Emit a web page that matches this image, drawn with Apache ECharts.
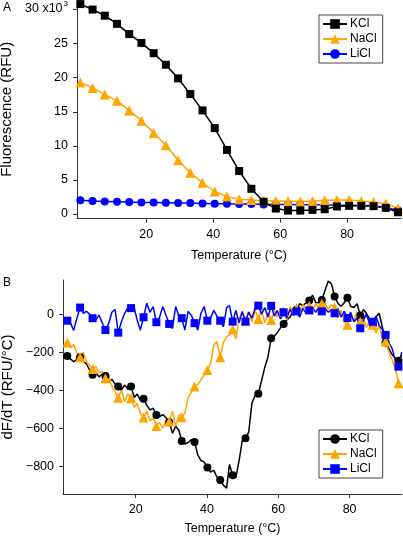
<!DOCTYPE html>
<html>
<head>
<meta charset="utf-8">
<script src="https://cdn.jsdelivr.net/npm/echarts@6/dist/echarts.min.js"></script>
<style>html,body{margin:0;padding:0;background:#fff;}#c{width:403px;height:536px;}</style>
</head>
<body>
<div id="c"></div>
<script>
// ---------- Panel A: fluorescence vs temperature ----------
const topTemps = [0.3, 3.95, 7.6, 11.25, 14.9, 18.55, 22.2, 25.85, 29.5, 33.15, 36.8, 40.45, 44.1, 47.75, 51.4, 55.05, 58.7, 62.35, 66.0, 69.65, 73.3, 76.95, 80.6, 84.25, 87.9, 91.55, 95.2];
const topKCl  = [30.8, 30.0, 29.1, 27.9, 26.4, 25.1, 23.6, 21.9, 19.9, 17.6, 15.2, 12.6, 9.4, 6.3, 3.7, 1.8, 0.8, 0.5, 0.5, 0.6, 0.7, 1.1, 1.2, 1.2, 1.15, 0.9, 0.25];
const topNaCl = [19.3, 18.5, 17.55, 16.6, 15.2, 13.7, 11.9, 10.1, 7.9, 6.05, 4.6, 3.3, 2.55, 2.15, 2.05, 1.95, 1.9, 1.9, 1.85, 1.9, 2.0, 2.05, 2.05, 1.9, 1.75, 1.55, 0.8];
const topLiCl = [2.0, 1.9, 1.85, 1.8, 1.75, 1.7, 1.7, 1.65, 1.6, 1.6, 1.55, 1.5, 1.5, 1.45, 1.45, 1.4, 1.4, 1.4, 1.35, 1.35, 1.35, 1.3, 1.3, 1.25, 1.2, 1.0, 0.5];
const topXTicks = [20, 40, 60, 80];
const topYTicks = [0, 5, 10, 15, 20, 25, 30];

// ---------- Panel B: dF/dT vs temperature ----------
const botTemps = [0.8, 1.7, 2.6, 3.5, 4.4, 5.3, 6.2, 7.1, 7.9, 8.8, 9.7, 10.6, 11.5, 12.4, 13.3, 14.2, 15.1, 16.0, 16.9, 17.8, 18.7, 19.6, 20.4, 21.3, 22.2, 23.1, 24.0, 24.9, 25.8, 26.7, 27.6, 28.5, 29.4, 30.3, 31.2, 32.1, 32.9, 33.8, 34.7, 35.6, 36.5, 37.4, 38.3, 39.2, 40.1, 41.0, 41.9, 42.8, 43.7, 44.6, 45.5, 46.3, 47.2, 48.1, 49.0, 49.9, 50.8, 51.7, 52.6, 53.5, 54.4, 55.3, 56.2, 57.1, 58.0, 58.9, 59.7, 60.6, 61.5, 62.4, 63.3, 64.2, 65.1, 66.0, 66.9, 67.8, 68.7, 69.6, 70.5, 71.4, 72.2, 73.1, 74.0, 74.9, 75.8, 76.7, 77.6, 78.5, 79.4, 80.3, 81.2, 82.1, 83.0, 83.9, 84.7, 85.6, 86.5, 87.4, 88.3, 89.2, 90.1, 91.0, 91.9, 92.8, 93.7, 94.6];
const botKCl = [-220, -235, -250, -238, -226, -248, -262, -295, -319, -305, -330, -315, -325, -358, -342, -368, -381, -400, -372, -395, -381, -438, -420, -452, -445, -478, -503, -495, -530, -539, -528, -545, -568, -626, -590, -610, -667, -683, -675, -660, -672, -740, -770, -778, -807, -830, -822, -858, -872, -900, -915, -790, -847, -860, -770, -665, -653, -620, -468, -428, -419, -350, -280, -225, -126, -115, -98, -72, -51, -30, -15, 20, 23, 55, 45, 60, 72, 100, 62, 60, 75, 125, 175, 160, 93, 58, 42, 60, 87, 42, 35, 55, -7, 24, 5, -25, -56, -15, 5, -70, -149, -180, -212, -232, -245, -215];
const botNaCl = [-149, -175, -160, -205, -226, -200, -250, -270, -288, -275, -310, -300, -337, -320, -380, -410, -440, -400, -460, -420, -442, -490, -470, -520, -544, -510, -560, -545, -588, -570, -600, -560, -565, -510, -590, -530, -542, -520, -440, -410, -381, -370, -345, -320, -293, -260, -162, -144, -226, -150, -118, -110, -79, -130, -20, 10, -35, 15, -40, 20, -25, 25, -45, 5, -30, 20, -15, 30, 15, -30, 40, 10, 30, -10, 50, 20, 45, 15, 55, 30, 55, 60, 25, 50, 35, -20, 20, -40, -55, -10, -30, 10, -40, -15, -70, -30, -55, -100, -60, -130, -142, -200, -240, -283, -363, -370];
const botLiCl = [-34, -47, -85, -20, 35, 5, 15, 0, -21, -30, -5, -45, -83, -50, 10, 25, -97, -40, 5, 35, 32, 30, -30, -83, -16, 58, 10, 40, -42, -15, 40, -5, -51, -75, 40, -10, -21, -83, 15, -5, -47, -83, 5, 40, -34, -20, 20, -10, -34, -66, 35, 45, -39, 20, -45, 15, -39, 10, -20, 30, 45, 0, 35, -15, 44, -10, 20, -25, 10, -20, 25, -5, 15, -15, 30, 5, 20, 35, 10, 40, 15, 30, 10, 25, 5, 30, -15, 15, -20, 10, -40, -20, -74, -30, 0, -50, -40, -10, -60, -80, -109, -150, -180, -240, -276, -200];
const botXTicks = [20, 40, 60, 80];
const botYTicks = [-800, -600, -400, -200, 0];
const markerEvery = 4;

const saltNames = ['KCl', 'NaCl', 'LiCl'];
const saltColors = {KCl: '#000000', NaCl: '#FFA500', LiCl: '#0000FF'};
const topSymbols = {KCl: 'rect', NaCl: 'triangle', LiCl: 'circle'};
const botSymbols = {KCl: 'circle', NaCl: 'triangle', LiCl: 'rect'};

const font = 'Liberation Sans, Arial, Helvetica, sans-serif';
const axisCol = '#333';
const tickFont = 12.5;

function pairs(xs, ys) { return xs.map((x, i) => [x, ys[i]]); }
function minus(v) { return String(v).replace('-', '\u2212'); }

const topData = {KCl: topKCl, NaCl: topNaCl, LiCl: topLiCl};
const botData = {KCl: botKCl, NaCl: botNaCl, LiCl: botLiCl};

function symSize(s) { return s === 'triangle' ? 10 : 8; }

const series = [];
// top: drawn LiCl first, KCl on top
['LiCl', 'NaCl', 'KCl'].forEach(n => {
  series.push({
    name: n + '|A', type: 'line', xAxisIndex: 0, yAxisIndex: 0,
    data: pairs(topTemps, topData[n]),
    symbol: topSymbols[n], symbolSize: symSize(topSymbols[n]), showAllSymbol: true,
    lineStyle: {color: saltColors[n], width: 1.5},
    itemStyle: {color: saltColors[n]},
    clip: false, animation: false
  });
});
saltNames.forEach(n => {
  const sym = botSymbols[n];
  series.push({
    name: n + '|B', type: 'line', xAxisIndex: 1, yAxisIndex: 1,
    data: botTemps.map((t, i) => ({value: [t, botData[n][i]], symbol: i % markerEvery === 0 ? sym : 'none'})),
    symbol: sym, symbolSize: symSize(sym), showAllSymbol: true,
    lineStyle: {color: saltColors[n], width: 1.5},
    itemStyle: {color: saltColors[n]},
    animation: false
  });
});

function xAxis(grid, min, max, ticks) {
  return {
    type: 'value', gridIndex: grid, min: min, max: max,
    name: 'Temperature (°C)', nameLocation: 'middle', nameGap: grid === 0 ? 30 : 28,
    nameTextStyle: {color: '#000', fontSize: 12.5, fontFamily: font},
    axisLine: {show: true, onZero: false, lineStyle: {color: axisCol, width: 1}},
    axisTick: {show: true, inside: false, length: 4, customValues: ticks, lineStyle: {color: axisCol}},
    axisLabel: {color: '#000', fontSize: tickFont, fontFamily: font, margin: 9, customValues: ticks},
    splitLine: {show: false}
  };
}

const option = {
  backgroundColor: '#fff',
  animation: false,
  title: [
    {text: 'A', left: 3, top: 2, padding: 0, textStyle: {fontSize: 12, fontWeight: 'normal', color: '#000', fontFamily: font}},
    {text: 'B', left: 3, top: 277, padding: 0, textStyle: {fontSize: 12, fontWeight: 'normal', color: '#000', fontFamily: font}}
  ],
  grid: [
    {left: 77, right: 2, top: 0, height: 218.7, containLabel: false, outerBoundsMode: 'none'},
    {left: 63, right: 1, top: 280, bottom: 42, containLabel: false, outerBoundsMode: 'none'}
  ],
  xAxis: [
    xAxis(0, -0.7, 96.1, topXTicks),
    xAxis(1, -0.4, 94.7, botXTicks)
  ],
  yAxis: [
    {
      type: 'value', gridIndex: 0, min: -0.69, max: 31.4,
      name: 'Fluorescence (RFU)', nameLocation: 'middle', nameGap: 62,
      nameTextStyle: {color: '#000', fontSize: 15, fontFamily: font},
      axisLine: {show: true, onZero: false, lineStyle: {color: axisCol, width: 1}},
      axisTick: {show: true, length: 4, customValues: topYTicks, lineStyle: {color: axisCol}},
      axisLabel: {
        color: '#000', fontSize: tickFont, fontFamily: font, margin: 9, customValues: topYTicks,
        formatter: v => v === 30 ? '{n|30 x10}{sup|3}' : String(v),
        rich: {
          n: {fontSize: tickFont, fontFamily: font, color: '#000', verticalAlign: 'bottom', padding: [0, 0, 4, 0]},
          sup: {fontSize: 8, fontFamily: font, color: '#000', verticalAlign: 'bottom', padding: [0, 0, 11, 1]}
        }
      },
      splitLine: {show: false}
    },
    {
      type: 'value', gridIndex: 1, min: -946, max: 180,
      name: 'dF/dT (RFU/°C)', nameLocation: 'middle', nameGap: 48,
      nameTextStyle: {color: '#000', fontSize: 15, fontFamily: font},
      axisLine: {show: true, onZero: false, lineStyle: {color: axisCol, width: 1}},
      axisTick: {show: true, length: 4, customValues: botYTicks, lineStyle: {color: axisCol}},
      axisLabel: {color: '#000', fontSize: tickFont, fontFamily: font, margin: 9, customValues: botYTicks, formatter: minus},
      splitLine: {show: false}
    }
  ],
  legend: [
    {
      data: saltNames.map(n => n + '|A'), formatter: nm => nm.split('|')[0],
      orient: 'vertical', left: 319, top: 15, padding: [3, 6, 3, 3], itemGap: 3,
      itemWidth: 24, itemHeight: 12, borderColor: '#444', borderWidth: 1, backgroundColor: '#fff',
      textStyle: {fontSize: 12, color: '#000', fontFamily: font, padding: [0, 0, 0, -2]},
      selectedMode: false
    },
    {
      data: saltNames.map(n => n + '|B'), formatter: nm => nm.split('|')[0],
      orient: 'vertical', left: 319, top: 430, padding: [3, 6, 3, 3], itemGap: 3,
      itemWidth: 24, itemHeight: 12, borderColor: '#444', borderWidth: 1, backgroundColor: '#fff',
      textStyle: {fontSize: 12, color: '#000', fontFamily: font, padding: [0, 0, 0, -2]},
      selectedMode: false
    }
  ],
  series: series
};

const chart = echarts.init(document.getElementById('c'), null, {renderer: 'canvas'});
chart.setOption(option);
</script>
</body>
</html>
